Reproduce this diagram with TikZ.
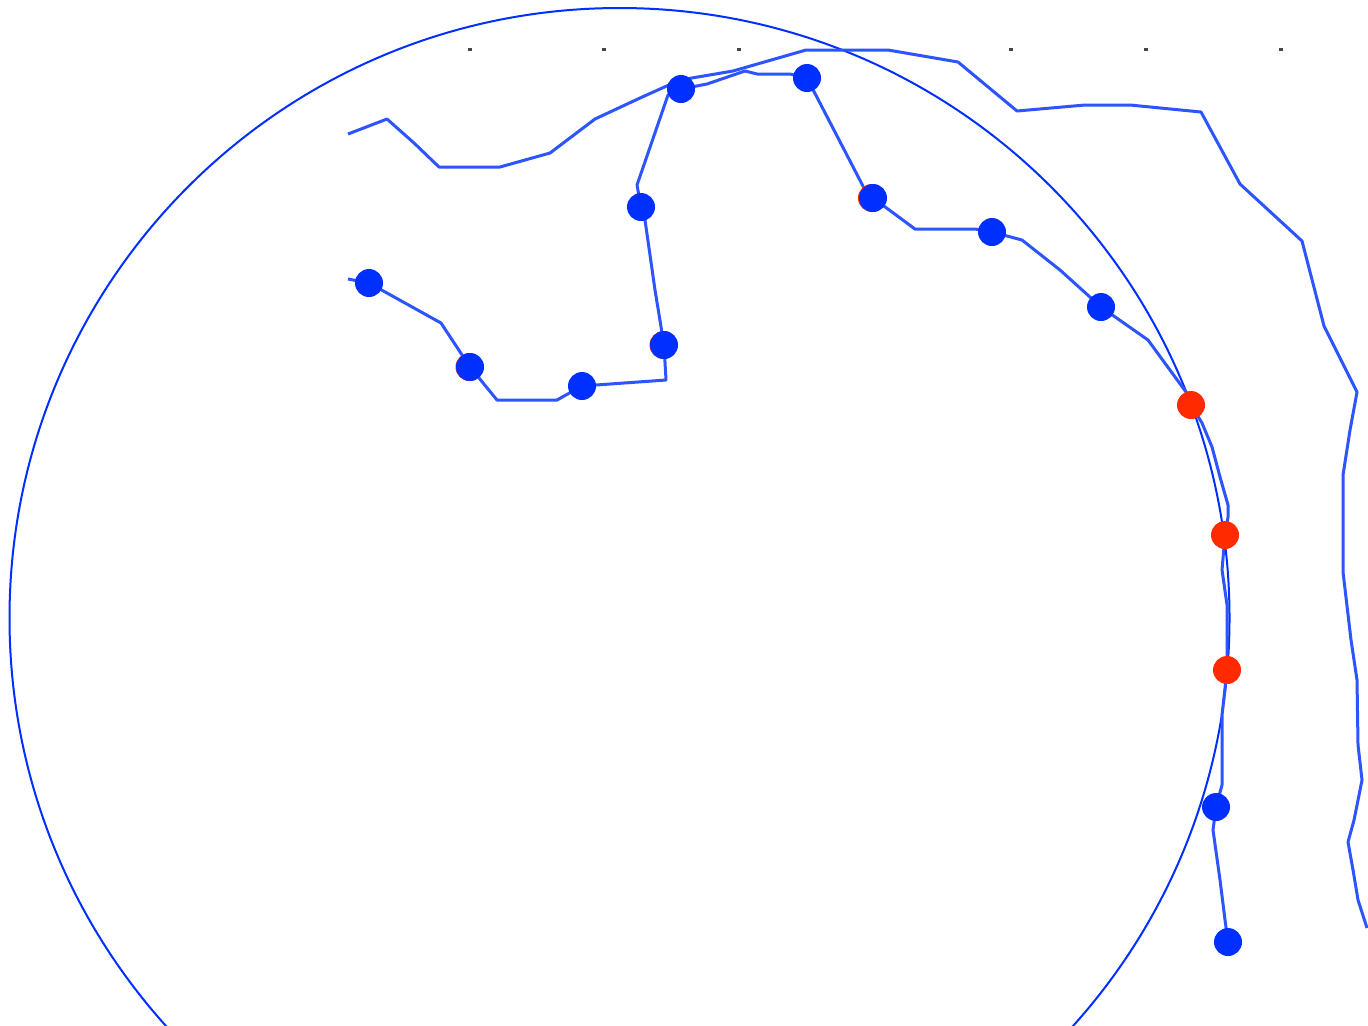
\documentclass[tikz,border=0pt]{standalone}
\definecolor{dotblue}{RGB}{0,48,255}
\definecolor{dotred}{RGB}{255,42,0}
\definecolor{trackblue}{RGB}{45,85,255}
\definecolor{tickgrey}{RGB}{70,70,70}
\tikzset{
  dotbase/.style={circle,inner sep=0pt,minimum size=14pt,fill=#1,draw=none},
  bluedot/.style={dotbase=dotblue},
  reddot/.style={dotbase=dotred},
  halodot/.style={dotbase=dotred},
  trackline/.style={draw=trackblue,line width=1.5pt,line join=round},
  rangeline/.style={draw=dotblue,line width=1pt},
  tickmark/.style={fill=tickgrey,draw=none,inner sep=0pt,minimum width=2pt,minimum height=1.2pt,rectangle}
}
\begin{document}
\begin{tikzpicture}[x=0.5pt,y=-0.5pt]
\useasboundingbox (0,0) rectangle (1368,1025);
\clip (0,0) rectangle (1368,1025);
\fill[white] (0,0) rectangle (1368,1025);
% tick marks
\foreach \n/\tx in {a/470,b/604,c/739,d/1011,e/1146,f/1281}
  \node[tickmark] (tick\n) at (\tx,49.5) {};
% range circle
\coordinate (centre) at (619.5,618);
\draw[rangeline] (centre) circle [radius=305pt];
% dots' positions
\coordinate (p1) at (369,283);
\coordinate (p2) at (470,367);
\coordinate (p3) at (582,386);
\coordinate (p4) at (664,345);
\coordinate (p5) at (641,207);
\coordinate (p6) at (681,89);
\coordinate (p7) at (807,78);
\coordinate (p8) at (873,198);
\coordinate (p9) at (992,232);
\coordinate (p10) at (1101,307);
\coordinate (p11) at (1191,405);
\coordinate (p12) at (1225,535);
\coordinate (p13) at (1227,670);
\coordinate (p14) at (1216,807);
\coordinate (p15) at (1228,942);
% outer track
\draw[trackline] (348,134) -- (387,119) -- (414,143) -- (439,167) -- (500,167) -- (550,153) -- (595,119) -- (640,98) -- (680,80) -- (733,71) -- (806,50) -- (888,50) -- (958,62) -- (1017,111) -- (1085,105) -- (1130,105) -- (1201,112) -- (1240,184) -- (1302,241) -- (1324,326) -- (1357,392) -- (1350,430) -- (1343,475) -- (1343,572) -- (1351,640) -- (1357,680) -- (1358,745) -- (1362,780) -- (1354,820) -- (1348,842) -- (1353,870) -- (1358,900) -- (1367,928);
% inner track
\draw[trackline] (348,279) -- (p1) -- (441,323) -- (p2) -- (497,400) -- (557,400) -- (p3) -- (666,380) -- (p4) -- (655,290) -- (645,220) -- (p5) -- (637,185) -- (668,95) -- (p6) -- (707,84) -- (745,71) -- (757,74) -- (790,74) -- (p7) -- (865,190) -- (p8) -- (915,229) -- (975,229) -- (p9) -- (1022,240) -- (1060,270) -- (p10) -- (1148,340) -- (1186,392) -- (p11) -- (1202,423) -- (1212,447) -- (1220,477) -- (1228,505) -- (1228,517) -- (p12) -- (1222,570) -- (1227,605) -- (p13) -- (1222,715) -- (1222,785) -- (p14) -- (1213,830) -- (1220,880) -- (1225,920) -- (p15);
% faint red under-dots
\node[halodot] (h2) at (469.5,367) {};
\node[halodot] (h4) at (663.5,345) {};
\node[halodot] (h8) at (872,198) {};
% dots
\node[bluedot] (d1) at (p1) {};
\node[bluedot] (d2) at (p2) {};
\node[bluedot] (d3) at (p3) {};
\node[bluedot] (d4) at (p4) {};
\node[bluedot] (d5) at (p5) {};
\node[bluedot] (d6) at (p6) {};
\node[bluedot] (d7) at (p7) {};
\node[bluedot] (d8) at (p8) {};
\node[bluedot] (d9) at (p9) {};
\node[bluedot] (d10) at (p10) {};
\node[reddot] (d11) at (p11) {};
\node[reddot] (d12) at (p12) {};
\node[reddot] (d13) at (p13) {};
\node[bluedot] (d14) at (p14) {};
\node[bluedot] (d15) at (p15) {};
\end{tikzpicture}
\end{document}
